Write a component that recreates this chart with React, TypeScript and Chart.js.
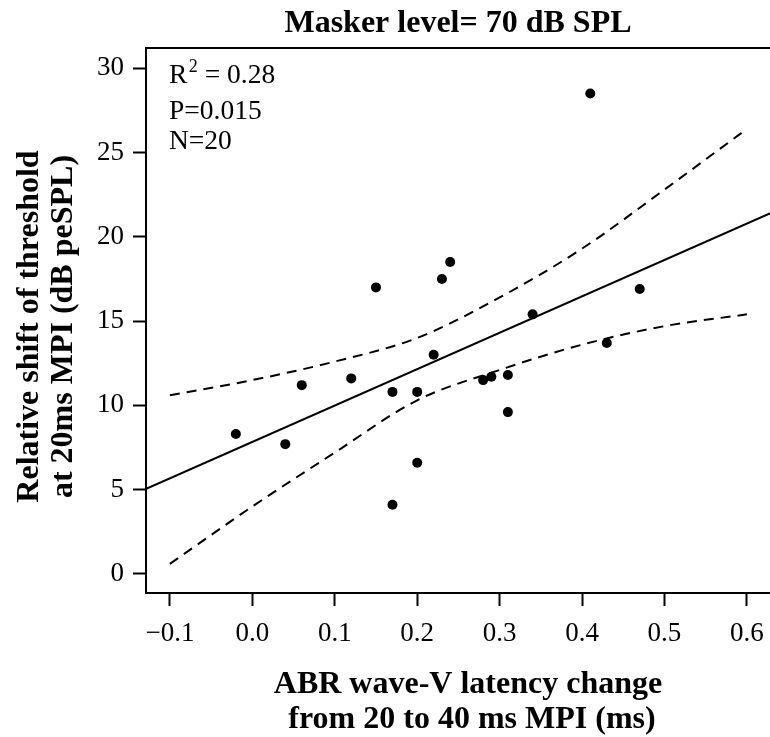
import React, { useEffect, useRef } from "react";
import { Chart, registerables } from "chart.js";

Chart.register(...registerables);

// ABR wave-V latency change (ms) for each listener
const latencyChange = [
  -0.02, 0.04, 0.06, 0.12, 0.15, 0.17, 0.17, 0.2, 0.2, 0.22,
  0.23, 0.24, 0.28, 0.29, 0.31, 0.31, 0.34, 0.41, 0.43, 0.47,
];
// Relative threshold shift (dB peSPL)
const thresholdShift = [
  8.3, 7.7, 11.2, 11.6, 17.0, 10.8, 4.1, 10.8, 6.6, 13.0,
  17.5, 18.5, 11.5, 11.7, 11.8, 9.6, 15.4, 28.5, 13.7, 16.9,
];

// Regression line end values
const fitX = [-0.2, 0.7];
const fitY = [3.51, 22.95];

// Confidence band (dashed)
const bandX = [-0.1, 0, 0.1, 0.2, 0.3, 0.4, 0.5, 0.6];
const bandUpper = [10.6, 11.5, 12.6, 14.0, 16.4, 19.3, 22.8, 26.4];
const bandLower = [0.6, 4.0, 7.2, 10.3, 12.1, 13.6, 14.7, 15.4];

const xTickValues = [-0.1, 0, 0.1, 0.2, 0.3, 0.4, 0.5, 0.6];
const xTickLabels = ["\u22120.1", "0.0", "0.1", "0.2", "0.3", "0.4", "0.5", "0.6"];
const yTickValues = [0, 5, 10, 15, 20, 25, 30];
const yTickLabels = ["0", "5", "10", "15", "20", "25", "30"];

const titleText = "Masker level= 70 dB SPL";
const xTitleLines = ["ABR wave-V latency change", "from 20 to 40 ms MPI (ms)"];
const yTitleLines = ["Relative shift of threshold", "at 20ms MPI (dB peSPL)"];
const statLines = ["= 0.28", "P=0.015", "N=20"];

const SERIF = '"Liberation Serif", "Times New Roman", serif';

const decorPlugin = {
  id: "decor",
  afterDraw(chart: any) {
    const { ctx, chartArea } = chart;
    ctx.save();
    // top frame line
    ctx.strokeStyle = "#000";
    ctx.lineWidth = 2;
    ctx.beginPath();
    ctx.moveTo(chartArea.left - 1, chartArea.top);
    ctx.lineTo(chart.width, chartArea.top);
    ctx.stroke();

    ctx.fillStyle = "#000";
    ctx.textBaseline = "alphabetic";

    // statistics annotation
    ctx.textAlign = "left";
    ctx.font = `27.5px ${SERIF}`;
    const x0 = 169;
    ctx.fillText("R", x0, 83);
    const rw = ctx.measureText("R").width;
    ctx.font = `18px ${SERIF}`;
    ctx.fillText("2", x0 + rw + 1.5, 71.5);
    const tw = ctx.measureText("2").width;
    ctx.font = `27.5px ${SERIF}`;
    ctx.fillText(" " + statLines[0], x0 + rw + 1.5 + tw, 83);
    ctx.fillText(statLines[1], x0, 118.5);
    ctx.fillText(statLines[2], x0, 149);

    // x axis title
    ctx.font = `bold 32px ${SERIF}`;
    ctx.textAlign = "center";
    ctx.fillText(xTitleLines[0], 468, 693);
    ctx.fillText(xTitleLines[1], 472, 728);

    // y axis title
    const ys = [38.3, 71.7];
    yTitleLines.forEach((t, i) => {
      ctx.save();
      ctx.translate(ys[i], 326.5);
      ctx.rotate(-Math.PI / 2);
      ctx.fillText(t, 0, 0);
      ctx.restore();
    });
    ctx.restore();
  },
};

export default function App() {
  const ref = useRef<HTMLCanvasElement>(null);

  useEffect(() => {
    document.body.style.margin = "0";
    const canvas = ref.current;
    if (!canvas) return;

    const tickFont = { family: SERIF, size: 27, lineHeight: 1.2 };

    const chart = new Chart(canvas, {
      type: "scatter",
      data: {
        datasets: [
          {
            label: "points",
            data: latencyChange.map((x, i) => ({ x, y: thresholdShift[i] })),
            pointRadius: 5,
            pointBackgroundColor: "#000",
            pointBorderWidth: 0,
            showLine: false,
          },
          {
            label: "fit",
            data: fitX.map((x, i) => ({ x, y: fitY[i] })),
            showLine: true,
            pointRadius: 0,
            borderColor: "#000",
            borderWidth: 2,
          },
          {
            label: "upper",
            data: bandX.map((x, i) => ({ x, y: bandUpper[i] })),
            showLine: true,
            pointRadius: 0,
            borderColor: "#000",
            borderWidth: 2,
            borderDash: [10, 7],
            cubicInterpolationMode: "monotone",
          },
          {
            label: "lower",
            data: bandX.map((x, i) => ({ x, y: bandLower[i] })),
            showLine: true,
            pointRadius: 0,
            borderColor: "#000",
            borderWidth: 2,
            borderDash: [10, 7],
            cubicInterpolationMode: "monotone",
          },
        ] as any,
      },
      options: {
        responsive: false,
        animation: false,
        devicePixelRatio: 1,
        layout: { padding: 0, autoPadding: false },
        plugins: {
          legend: { display: false },
          tooltip: { enabled: false },
          title: {
            display: true,
            text: titleText,
            fullSize: false,
            color: "#000",
            font: { family: SERIF, size: 32, weight: "bold", lineHeight: 1.2 },
            padding: { top: 5, bottom: 4.6 },
          },
        },
        scales: {
          x: {
            type: "linear",
            position: "bottom",
            min: -0.129,
            max: 0.628,
            afterBuildTicks: (s: any) => {
              s.ticks = xTickValues.map((v) => ({ value: v }));
            },
            afterFit: (s: any) => {
              s.height = 144;
              s.paddingLeft = 0;
              s.paddingRight = 0;
            },
            ticks: {
              callback: (_v: any, i: number) => xTickLabels[i],
              font: tickFont,
              color: "#000",
              padding: 12,
              maxRotation: 0,
              autoSkip: false,
            },
            grid: {
              drawOnChartArea: false,
              drawTicks: true,
              tickLength: 13,
              tickWidth: 2,
              tickColor: "#000",
            },
            border: { display: true, color: "#000", width: 2 },
          },
          y: {
            type: "linear",
            min: -1.13,
            max: 31.2,
            afterBuildTicks: (s: any) => {
              s.ticks = yTickValues.map((v) => ({ value: v }));
            },
            afterFit: (s: any) => {
              s.width = 146;
              s.paddingTop = 0;
              s.paddingBottom = 0;
            },
            ticks: {
              callback: (_v: any, i: number) => yTickLabels[i],
              font: tickFont,
              color: "#000",
              padding: 9,
              autoSkip: false,
            },
            grid: {
              drawOnChartArea: false,
              drawTicks: true,
              tickLength: 13,
              tickWidth: 2,
              tickColor: "#000",
            },
            border: { display: true, color: "#000", width: 2 },
          },
        },
      } as any,
      plugins: [decorPlugin],
    });

    return () => chart.destroy();
  }, []);

  return (
    <div style={{ width: 770, height: 737, overflow: "hidden", background: "#fff" }}>
      <canvas ref={ref} width={770} height={737} style={{ display: "block" }} />
    </div>
  );
}
